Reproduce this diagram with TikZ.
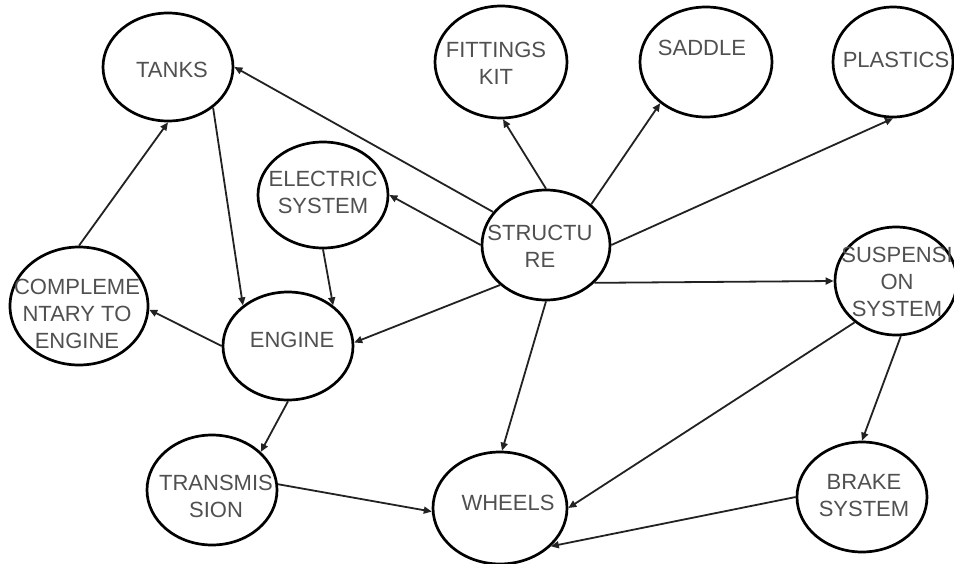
\documentclass[tikz,border=0pt]{standalone}
\usepackage{fontspec}
\setmainfont{Liberation Sans}
\usetikzlibrary{arrows.meta,shapes.geometric}
\definecolor{labelgray}{HTML}{505050}
\definecolor{linegray}{HTML}{222222}
\begin{document}
\begin{tikzpicture}[x=1pt,y=-1pt,
  bubble/.style={ellipse,draw=black,line width=2.7pt,fill=white,inner sep=0pt},
  caption/.style={text=labelgray,align=center,inner sep=0pt,
    font=\fontsize{22}{27}\selectfont},
  arr/.style={draw=linegray,line width=1.8pt,
    -{Triangle[length=8pt,width=7pt]}}]
\useasboundingbox (0,0) rectangle (954,563);
\fill[white] (0,0) rectangle (954,563);

% ellipses
\node[bubble,minimum width=130pt,minimum height=108pt] (tanks)    at (168,67)  {};
\node[bubble,minimum width=130pt,minimum height=106pt] (elec)     at (323,195) {};
\node[bubble,minimum width=132pt,minimum height=112pt] (fit)      at (501,62)  {};
\node[bubble,minimum width=132pt,minimum height=110pt] (saddle)   at (706,62)  {};
\node[bubble,minimum width=120pt,minimum height=110pt] (plastics) at (893,62)  {};
\node[bubble,minimum width=128pt,minimum height=110pt] (struct)   at (546,245) {};
\node[bubble,minimum width=122pt,minimum height=108pt] (susp)     at (896,281) {};
\node[bubble,minimum width=138pt,minimum height=118pt] (comp)     at (79,306)  {};
\node[bubble,minimum width=130pt,minimum height=108pt] (engine)   at (288,346) {};
\node[bubble,minimum width=130pt,minimum height=110pt] (trans)    at (212,490) {};
\node[bubble,minimum width=134pt,minimum height=112pt] (wheels)   at (500,508) {};
\node[bubble,minimum width=130pt,minimum height=110pt] (brake)    at (862,497) {};

% labels
\node[caption] (tanks-t)    at (172,70)  {TANKS};
\node[caption] (elec-t)     at (323,192) {ELECTRIC\\SYSTEM};
\node[caption] (fit-t)      at (496,63)  {FITTINGS\\KIT};
\node[caption] (saddle-t)   at (702,48)  {SADDLE};
\node[caption] (plastics-t) at (896,60)  {PLASTICS};
\node[caption] (struct-t)   at (540,246) {STRUCTU\\RE};
\node[caption] (susp-t)     at (897,282) {SUSPENSI\\ON\\SYSTEM};
\node[caption] (comp-t)     at (77,314)  {COMPLEME\\NTARY TO\\ENGINE};
\node[caption] (engine-t)   at (292,340) {ENGINE};
\node[caption] (trans-t)    at (216,496) {TRANSMIS\\SION};
\node[caption] (wheels-t)   at (508,503) {WHEELS};
\node[caption] (brake-t)    at (864,496) {BRAKE\\SYSTEM};

% connectors
\draw[arr] (struct.148) -- (tanks.0);
\draw[arr] (comp.90) -- (tanks.-90);
\draw[arr] (tanks.-42) -- (engine.138);
\draw[arr] (elec.-90) -- (engine.42);
\draw[arr] (struct.180) -- (elec.0);
\draw[arr] (struct.90) -- (fit.-88);
\draw[arr] (struct.42) -- (saddle.222);
\draw[arr] (struct.0) -- (plastics.-90);
\draw[arr] (struct.-38) -- (susp.180);
\draw[arr] (struct.221) -- (engine.3);
\draw[arr] (struct.-90) -- (wheels.88);
\draw[arr] (engine.180) -- (comp.-3);
\draw[arr] (engine.-90) -- (trans.38);
\draw[arr] (trans.5) -- (wheels.183);
\draw[arr] (susp.-135) -- (wheels.0);
\draw[arr] (susp.-85) -- (brake.90);
\draw[arr] (brake.180) -- (wheels.-37);
\end{tikzpicture}
\end{document}
